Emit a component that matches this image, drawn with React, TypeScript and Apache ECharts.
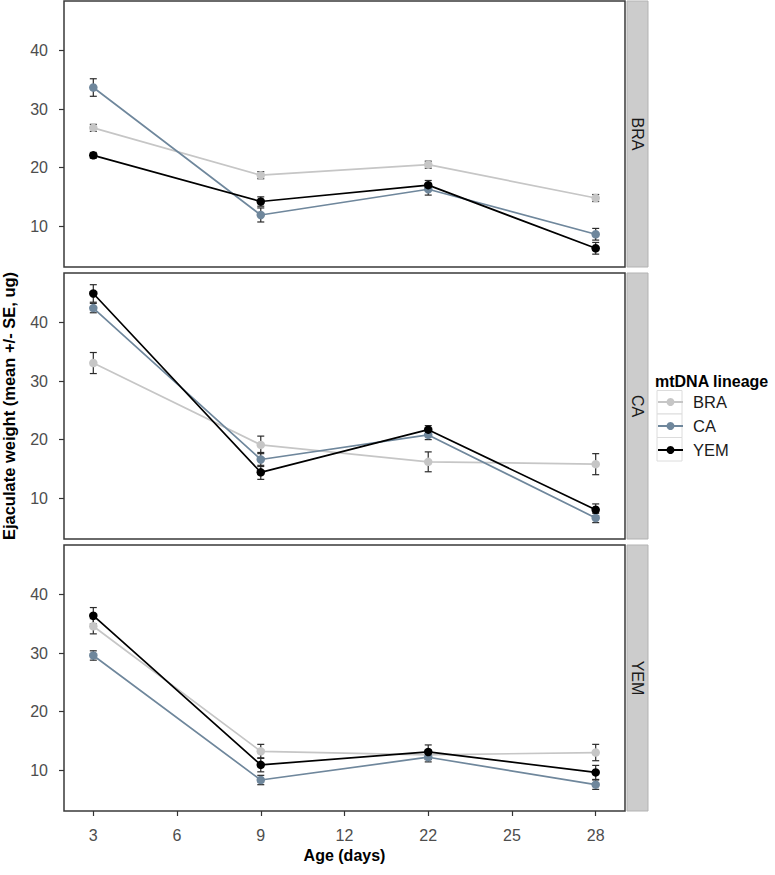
import React, { useEffect, useRef } from 'react';
import * as echarts from 'echarts';

// Axis tick labels (evenly spaced positions on the x axis)
const xTickLabels = ['3', '6', '9', '12', '22', '25', '28'];
// Ages at which measurements were taken
const ages = ['3', '9', '22', '28'];
const yTicks = [10, 20, 30, 40];
const panels = ['BRA', 'CA', 'YEM'];
const lineages = ['BRA', 'CA', 'YEM'];
const lineageColors = ['#c6c6c6', '#6f879c', '#000000'];

// Panel BRA
const braMeanInBRA = [26.8, 18.7, 20.5, 14.8];
const braSeInBRA = [0.6, 0.6, 0.6, 0.6];
const caMeanInBRA = [33.7, 11.9, 16.3, 8.6];
const caSeInBRA = [1.5, 1.2, 1.0, 1.0];
const yemMeanInBRA = [22.1, 14.2, 17.0, 6.2];
const yemSeInBRA = [0.5, 0.8, 0.8, 1.0];

// Panel CA
const braMeanInCA = [33.1, 19.1, 16.2, 15.8];
const braSeInCA = [1.8, 1.5, 1.7, 1.8];
const caMeanInCA = [42.5, 16.6, 20.8, 6.6];
const caSeInCA = [0.8, 1.2, 0.8, 0.8];
const yemMeanInCA = [45.0, 14.4, 21.7, 8.0];
const yemSeInCA = [1.5, 1.2, 0.7, 1.0];

// Panel YEM
const braMeanInYEM = [34.6, 13.2, 12.6, 13.0];
const braSeInYEM = [1.3, 1.2, 0.8, 1.4];
const caMeanInYEM = [29.6, 8.3, 12.2, 7.5];
const caSeInYEM = [0.8, 0.8, 0.8, 0.8];
const yemMeanInYEM = [36.4, 10.9, 13.1, 9.6];
const yemSeInYEM = [1.4, 1.2, 1.2, 1.2];

const meanTable = [
  [braMeanInBRA, caMeanInBRA, yemMeanInBRA],
  [braMeanInCA, caMeanInCA, yemMeanInCA],
  [braMeanInYEM, caMeanInYEM, yemMeanInYEM],
];
const seTable = [
  [braSeInBRA, caSeInBRA, yemSeInBRA],
  [braSeInCA, caSeInCA, yemSeInCA],
  [braSeInYEM, caSeInYEM, yemSeInYEM],
];

const FONT = 'Liberation Sans, Arial, Helvetica, sans-serif';
const GRID_LEFT = 64;
const GRID_WIDTH = 561;
const GRID_TOPS = [1, 273, 545];
const GRID_HEIGHT = 266;
const STRIP_X = 627;
const STRIP_W = 21;
const KEY_TOP = 390.5;
const KEY_H = 23.5;

export default function App() {
  const ref = useRef<HTMLDivElement>(null);

  useEffect(() => {
    if (!ref.current) return;
    const chart = echarts.init(ref.current, null, { renderer: 'svg' });
    const tickIdx = xTickLabels.map((_, i) => i);

    const grids = panels.map((_, p) => ({
      left: GRID_LEFT,
      top: GRID_TOPS[p],
      width: GRID_WIDTH,
      height: GRID_HEIGHT,
      show: true,
      borderColor: '#3a3a3a',
      borderWidth: 1.5,
      backgroundColor: '#ffffff',
    }));

    const xAxes = panels.map((_, p) => ({
      type: 'value',
      gridIndex: p,
      position: 'bottom',
      min: -0.35,
      max: 6.35,
      axisLine: { show: false, onZero: false },
      splitLine: { show: false },
      axisTick: {
        show: p === 2,
        customValues: tickIdx,
        length: 5,
        lineStyle: { color: '#333', width: 1.2 },
      },
      axisLabel: {
        show: p === 2,
        customValues: tickIdx,
        formatter: (v: number) => xTickLabels[Math.round(v)] ?? '',
        margin: 16,
        fontSize: 16,
        color: '#4d4d4d',
        fontFamily: FONT,
      },
    }));

    const yAxes = panels.map((_, p) => ({
      type: 'value',
      gridIndex: p,
      position: 'left',
      min: 3.0,
      max: 48.5,
      axisLine: { show: false, onZero: false },
      splitLine: { show: false },
      axisTick: {
        show: true,
        customValues: yTicks,
        length: 5,
        lineStyle: { color: '#333', width: 1.2 },
      },
      axisLabel: {
        customValues: yTicks,
        margin: 16,
        fontSize: 16,
        color: '#4d4d4d',
        fontFamily: FONT,
      },
    }));

    const series: any[] = [];
    panels.forEach((_, p) => {
      lineages.forEach((name, l) => {
        const mean = meanTable[p][l];
        const se = seTable[p][l];
        const color = lineageColors[l];
        series.push({
          type: 'line',
          name,
          xAxisIndex: p,
          yAxisIndex: p,
          data: ages.map((a, i) => [xTickLabels.indexOf(a), mean[i]]),
          symbol: 'circle',
          symbolSize: 8.5,
          lineStyle: { color, width: 1.7 },
          itemStyle: { color },
          z: 2,
        });
        series.push({
          type: 'custom',
          name: name + ' SE',
          xAxisIndex: p,
          yAxisIndex: p,
          data: ages.map((a, i) => [xTickLabels.indexOf(a), mean[i] - se[i], mean[i] + se[i]]),
          encode: { x: 0, y: [1, 2] },
          z: 2,
          renderItem: (params: any, api: any) => {
            const x = api.value(0);
            const lo = api.coord([x, api.value(1)]);
            const hi = api.coord([x, api.value(2)]);
            const hw = 3.5;
            const st = { stroke: '#2b2b2b', lineWidth: 1.2 };
            return {
              type: 'group',
              children: [
                { type: 'line', shape: { x1: lo[0], y1: lo[1], x2: hi[0], y2: hi[1] }, style: st },
                { type: 'line', shape: { x1: lo[0] - hw, y1: lo[1], x2: lo[0] + hw, y2: lo[1] }, style: st },
                { type: 'line', shape: { x1: hi[0] - hw, y1: hi[1], x2: hi[0] + hw, y2: hi[1] }, style: st },
              ],
            };
          },
        });
      });
    });

    const graphics: any[] = [];
    panels.forEach((label, p) => {
      graphics.push({
        type: 'rect',
        shape: { x: STRIP_X, y: GRID_TOPS[p], width: STRIP_W, height: GRID_HEIGHT },
        style: { fill: '#cccccc', stroke: '#b3b3b3', lineWidth: 1 },
      });
      graphics.push({
        type: 'text',
        x: STRIP_X + STRIP_W / 2,
        y: GRID_TOPS[p] + GRID_HEIGHT / 2,
        rotation: -Math.PI / 2,
        style: {
          text: label,
          fontSize: 16,
          fontFamily: FONT,
          fill: '#1a1a1a',
          textAlign: 'center',
          textVerticalAlign: 'middle',
        },
      });
    });
    // legend key boxes
    lineages.forEach((_, l) => {
      graphics.push({
        type: 'rect',
        shape: { x: 657, y: KEY_TOP + l * KEY_H, width: 25, height: KEY_H },
        style: { fill: '#ffffff', stroke: '#dcdcdc', lineWidth: 1 },
        z: 0,
      });
    });
    graphics.push({
      type: 'text',
      x: 655,
      y: 381,
      style: {
        text: 'mtDNA lineage',
        fontSize: 16,
        fontWeight: 'bold',
        fontFamily: FONT,
        fill: '#000',
        textAlign: 'left',
        textVerticalAlign: 'middle',
      },
    });
    graphics.push({
      type: 'text',
      x: GRID_LEFT + GRID_WIDTH / 2,
      y: 855,
      style: {
        text: 'Age (days)',
        fontSize: 16,
        fontWeight: 'bold',
        fontFamily: FONT,
        fill: '#000',
        textAlign: 'center',
        textVerticalAlign: 'middle',
      },
    });
    graphics.push({
      type: 'text',
      x: 9,
      y: 406,
      rotation: Math.PI / 2,
      style: {
        text: 'Ejaculate weight (mean +/- SE, ug)',
        fontSize: 16.5,
        fontWeight: 'bold',
        fontFamily: FONT,
        fill: '#000',
        textAlign: 'center',
        textVerticalAlign: 'middle',
      },
    });

    chart.setOption({
      animation: false,
      backgroundColor: '#ffffff',
      grid: grids,
      xAxis: xAxes,
      yAxis: yAxes,
      legend: {
        data: lineages,
        orient: 'vertical',
        left: 657,
        top: 393.5,
        padding: 0,
        itemWidth: 25,
        itemHeight: 10,
        itemGap: 7,
        selectedMode: false,
        textStyle: {
          fontSize: 16.5,
          color: '#1a1a1a',
          fontFamily: FONT,
          padding: [0, 0, 0, 5],
        },
        z: 5,
      },
      graphic: { elements: graphics },
      series,
    });

    return () => chart.dispose();
  }, []);

  return (
    <div
      ref={ref}
      style={{ position: 'fixed', left: 0, top: 0, width: 775, height: 875, background: '#fff' }}
    />
  );
}
